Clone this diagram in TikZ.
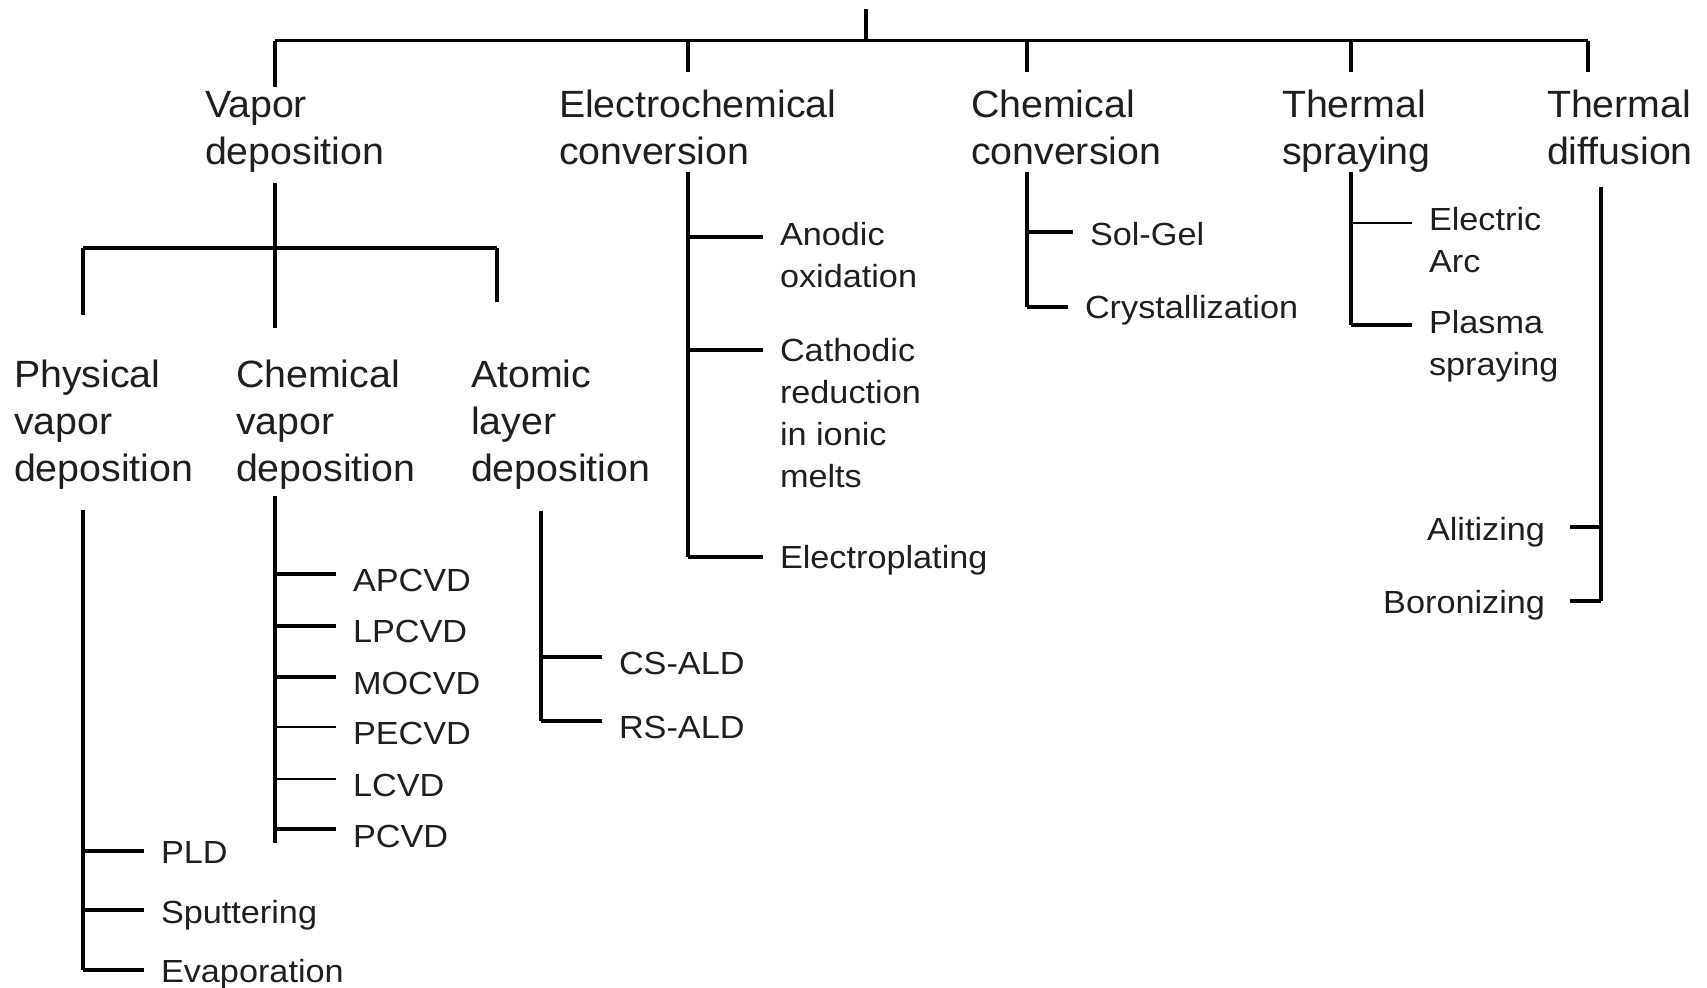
\documentclass[tikz,border=0pt]{standalone}
\usepackage{fontspec}
\setmainfont{Liberation Sans}
\newfontfamily\mainlab[FakeStretch=1.035]{Liberation Sans}
\newfontfamily\sublab[FakeStretch=1.07]{Liberation Sans}
\begin{document}
\begin{tikzpicture}[x=0.5pt,y=-0.5pt,
  every node/.style={inner sep=0pt,outer sep=0pt,text=black!88},
  main/.style={anchor=base west,align=left,font=\mainlab\fontsize{19pt}{23.5pt}\selectfont},
  sub/.style={anchor=base west,align=left,font=\sublab\fontsize{16pt}{20.9pt}\selectfont},
  subr/.style={anchor=base east,align=right,font=\sublab\fontsize{16pt}{20.9pt}\selectfont},
  thick line/.style={line width=1.6pt},
  thin line/.style={line width=0.8pt},
  twig/.style={thick line,shorten >=8.5pt},
  thintwig/.style={thin line,shorten >=8.5pt}]
\useasboundingbox (0,0) rectangle (1707,987);

% top level labels (anchor = baseline of last line)
\node[main] (vd) at (205,164) {Vapor\\deposition};
\node[main] (ec) at (559,164) {Electrochemical\\conversion};
\node[main] (cc) at (971,164) {Chemical\\conversion};
\node[main] (ts) at (1282,164) {Thermal\\spraying};
\node[main] (td) at (1547,164) {Thermal\\diffusion};

% second level (vapor deposition)
\node[main] (pvd) at (14,481) {Physical\\vapor\\deposition};
\node[main] (cvd) at (236,481) {Chemical\\vapor\\deposition};
\node[main] (ald) at (471,481) {Atomic\\layer\\deposition};

% leaves
\node[sub] (pld) at (161,863) {PLD};
\node[sub] (spu) at (161,923) {Sputtering};
\node[sub] (eva) at (161,982) {Evaporation};

\node[sub] (apcvd) at (353,591) {APCVD};
\node[sub] (lpcvd) at (353,642) {LPCVD};
\node[sub] (mocvd) at (353,694) {MOCVD};
\node[sub] (pecvd) at (353,744) {PECVD};
\node[sub] (lcvd) at (353,796) {LCVD};
\node[sub] (pcvd) at (353,847) {PCVD};

\node[sub] (csald) at (619,674) {CS-ALD};
\node[sub] (rsald) at (619,738) {RS-ALD};

\node[sub] (ano) at (780,287) {Anodic\\oxidation};
\node[sub] (cat) at (780,487) {Cathodic\\reduction\\in ionic\\melts};
\node[sub] (epl) at (780,568) {Electroplating};

\node[sub] (sg) at (1090,245) {Sol-Gel};
\node[sub] (cry) at (1085,318) {Crystallization};

\node[sub] (arc) at (1429,272) {Electric\\Arc};
\node[sub] (pla) at (1429,375) {Plasma\\spraying};

\node[subr] (ali) at (1545,540) {Alitizing};
\node[subr] (bor) at (1545,613) {Boronizing};

% top bar
\coordinate (root) at (866,9);
\coordinate (tV) at (275,40.5);
\coordinate (tE) at (688,40.5);
\coordinate (tC) at (1027,40.5);
\coordinate (tS) at (1351,40.5);
\coordinate (tD) at (1588,40.5);
\coordinate (dV) at (275,87);
\coordinate (dE) at (688,72);
\coordinate (dC) at (1027,72);
\coordinate (dS) at (1351,72);
\coordinate (dD) at (1588,72);
\draw[thick line] (root) -- (root |- tV);
\draw[thick line] (tV) -- (tD);
\draw[thick line] (tV) -- (dV);
\draw[thick line] (tE) -- (dE);
\draw[thick line] (tC) -- (dC);
\draw[thick line] (tS) -- (dS);
\draw[thick line] (tD) -- (dD);

% vapor deposition subtree
\coordinate (vS) at (275,183);
\coordinate (vE) at (275,328);
\coordinate (hP) at (83,248);
\coordinate (hA) at (497,248);
\coordinate (pP) at (83,315);
\coordinate (pA) at (497,302);
\draw[thick line] (vS) -- (vE);
\draw[thick line] (hP) -- (hA);
\draw[thick line] (hP) -- (pP);
\draw[thick line] (hA) -- (pA);

% PVD list
\coordinate (pvS) at (83,510);
\coordinate (bPLD) at (83,851);
\coordinate (bSPU) at (83,910);
\coordinate (bEVA) at (83,970);
\draw[thick line] (pvS) -- (bEVA);
\draw[twig] (bPLD) -- (bPLD -| pld.west);
\draw[twig] (bSPU) -- (bSPU -| spu.west);
\draw[twig] (bEVA) -- (bEVA -| eva.west);

% CVD list
\coordinate (cvS) at (275,496);
\coordinate (cvE) at (275,843);
\coordinate (bAP) at (275,574);
\coordinate (bLP) at (275,626);
\coordinate (bMO) at (275,677);
\coordinate (bPE) at (275,727);
\coordinate (bLC) at (275,779);
\coordinate (bPC) at (275,829);
\draw[thick line] (cvS) -- (cvE);
\draw[twig] (bAP) -- (bAP -| apcvd.west);
\draw[twig] (bLP) -- (bLP -| lpcvd.west);
\draw[twig] (bMO) -- (bMO -| mocvd.west);
\draw[thintwig] (bPE) -- (bPE -| pecvd.west);
\draw[thintwig] (bLC) -- (bLC -| lcvd.west);
\draw[twig] (bPC) -- (bPC -| pcvd.west);

% ALD list
\coordinate (alS) at (541,511);
\coordinate (bCS) at (541,657);
\coordinate (bRS) at (541,721);
\draw[thick line] (alS) -- (bRS);
\draw[twig] (bCS) -- (bCS -| csald.west);
\draw[twig] (bRS) -- (bRS -| rsald.west);

% electrochemical
\coordinate (eS) at (688,172);
\coordinate (bAN) at (688,237);
\coordinate (bCA) at (688,350);
\coordinate (bEP) at (688,557);
\draw[thick line] (eS) -- (bEP);
\draw[twig] (bAN) -- (bAN -| ano.west);
\draw[twig] (bCA) -- (bCA -| cat.west);
\draw[twig] (bEP) -- (bEP -| epl.west);

% chemical conversion
\coordinate (cS) at (1027,172);
\coordinate (bSG) at (1027,232);
\coordinate (bCR) at (1027,307);
\draw[thick line] (cS) -- (bCR);
\draw[twig] (bSG) -- (bSG -| sg.west);
\draw[twig] (bCR) -- (bCR -| cry.west);

% thermal spraying
\coordinate (sS) at (1351,172);
\coordinate (bEA) at (1351,223);
\coordinate (bPL) at (1351,325);
\draw[thick line] (sS) -- (bPL);
\draw[thintwig] (bEA) -- (bEA -| arc.west);
\draw[twig] (bPL) -- (bPL -| pla.west);

% thermal diffusion
\coordinate (fS) at (1601,187);
\coordinate (bAL) at (1601,527);
\coordinate (bBO) at (1601,601);
\draw[thick line] (fS) -- (bBO);
\draw[thick line,shorten >=12.5pt] (bAL) -- (bAL -| ali.east);
\draw[thick line,shorten >=12.5pt] (bBO) -- (bBO -| bor.east);
\end{tikzpicture}
\end{document}
